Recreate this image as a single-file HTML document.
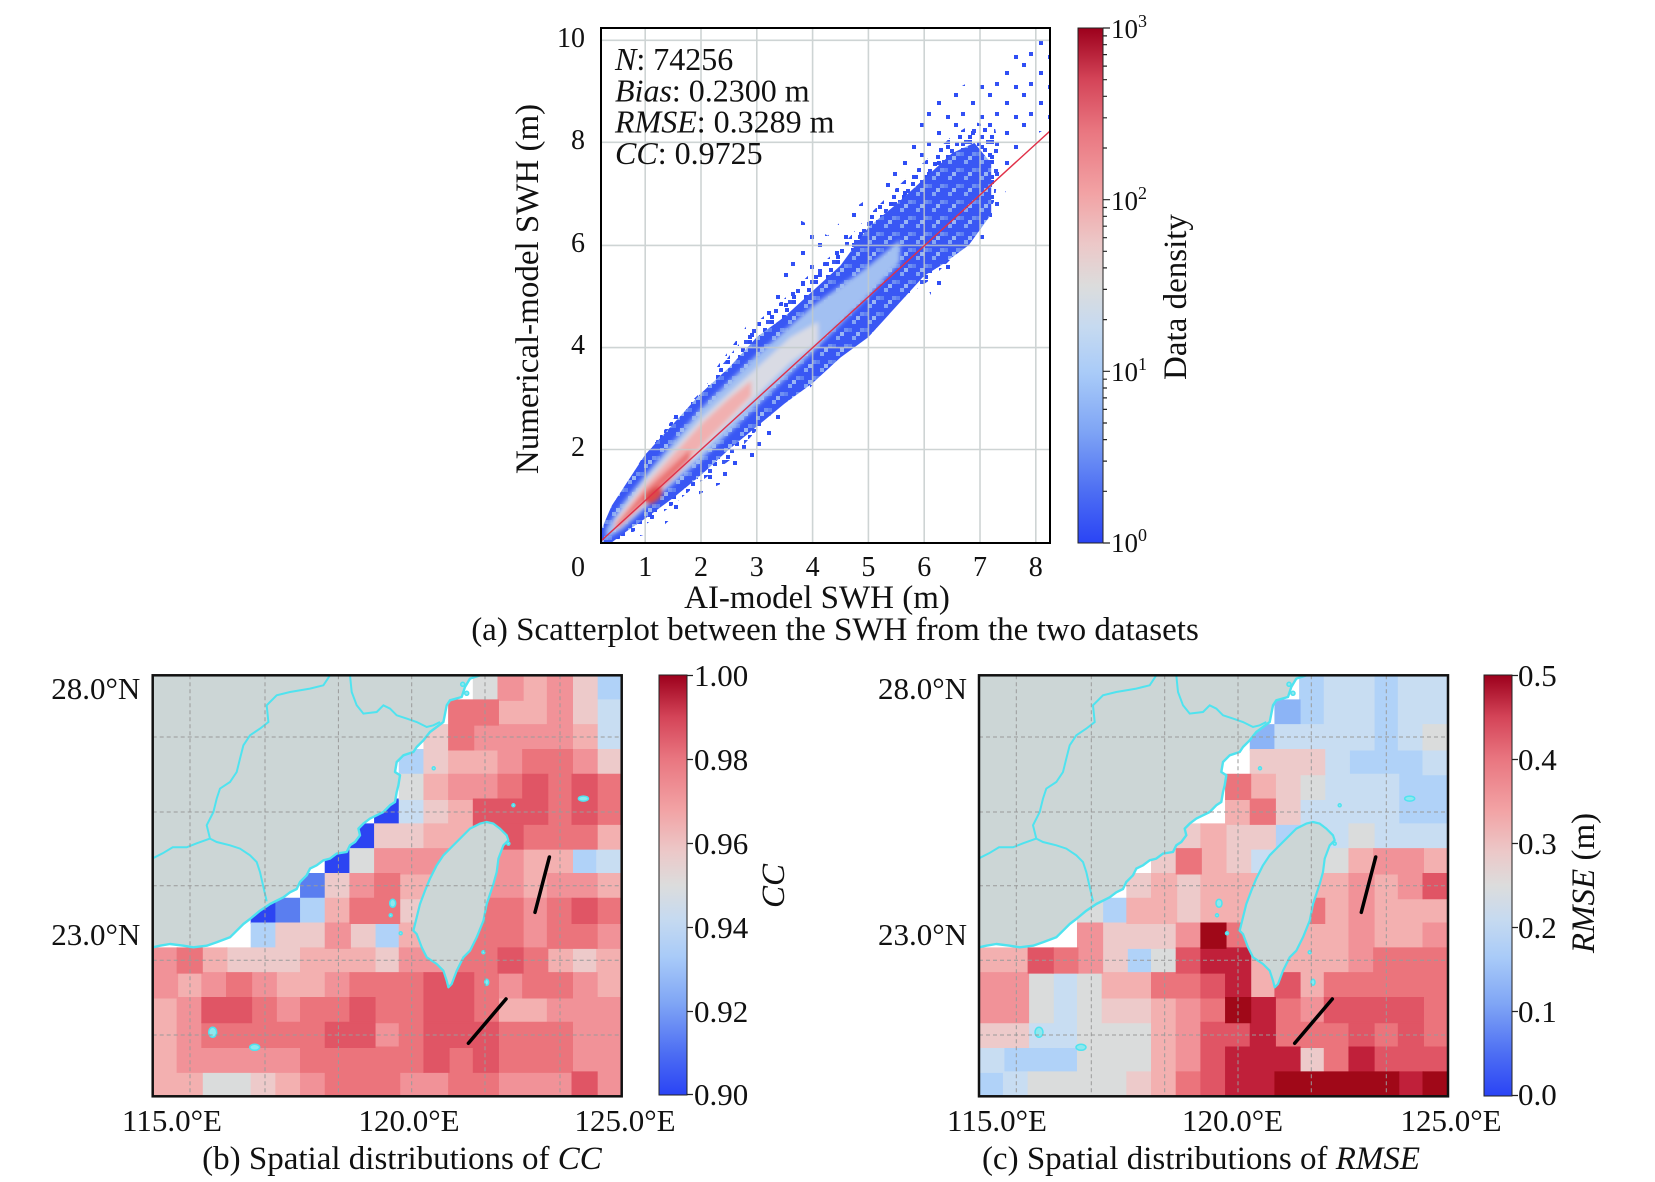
<!DOCTYPE html>
<html><head><meta charset="utf-8"><style>
html,body{margin:0;padding:0;background:#fff}
svg{display:block}
text{font-family:"Liberation Serif","DejaVu Serif",serif;fill:#111}
.k0{fill:#2c44f2;stroke:#2c44f2}.k1{fill:#5a7ef0;stroke:#5a7ef0}.km{fill:#8cb4f6;stroke:#8cb4f6}
.k2{fill:#b0d2f8;stroke:#b0d2f8}.k3{fill:#c8ddf2;stroke:#c8ddf2}.kg{fill:#dadcdc;stroke:#dadcdc}
.ka{fill:#edcaca;stroke:#edcaca}.kb{fill:#f3b0b0;stroke:#f3b0b0}.kc{fill:#f19298;stroke:#f19298}
.kd{fill:#eb747c;stroke:#eb747c}.ke{fill:#e05565;stroke:#e05565}.kf{fill:#c0203a;stroke:#c0203a}
.kh{fill:#a00818;stroke:#a00818}
.cells path{stroke-width:0.06}
</style></head><body>
<svg width="1655" height="1182" viewBox="0 0 1655 1182" xmlns="http://www.w3.org/2000/svg">
<defs>
<linearGradient id="cm" x1="0" y1="1" x2="0" y2="0">
<stop offset="0" stop-color="#2a44f5"/><stop offset="0.1" stop-color="#4d6ef3"/>
<stop offset="0.22" stop-color="#80a6f5"/><stop offset="0.33" stop-color="#a9cbf8"/>
<stop offset="0.42" stop-color="#c6daf0"/><stop offset="0.5" stop-color="#dcdcdc"/>
<stop offset="0.58" stop-color="#ecc8c8"/><stop offset="0.68" stop-color="#f2a2a4"/>
<stop offset="0.8" stop-color="#e97680"/><stop offset="0.9" stop-color="#d44458"/>
<stop offset="1" stop-color="#9c001c"/>
</linearGradient>
<pattern id="sp2" width="34" height="30" patternUnits="userSpaceOnUse">
<rect x="2" y="3" width="4" height="4" fill="#2f4ef5"/><rect x="19" y="11" width="4" height="4" fill="#2f4ef5"/>
<rect x="9" y="22" width="4" height="4" fill="#3452f4"/><rect x="28" y="25" width="4" height="4" fill="#2f4ef5"/>
</pattern>
<pattern id="sp" width="22" height="20" patternUnits="userSpaceOnUse">
<rect x="0" y="0" width="4" height="4" fill="#2f4ef5"/><rect x="9" y="2" width="4" height="4" fill="#2f4ef5"/>
<rect x="4" y="9" width="4" height="4" fill="#3452f4"/><rect x="15" y="8" width="4" height="4" fill="#2f4ef5"/>
<rect x="12" y="15" width="4" height="4" fill="#2f4ef5"/><rect x="18" y="0" width="4" height="4" fill="#3a58f3"/>
<rect x="0" y="15" width="4" height="4" fill="#2f4ef5"/>
</pattern>
<pattern id="dp" width="16" height="16" patternUnits="userSpaceOnUse">
<rect width="16" height="16" fill="#3957f4"/><rect x="4" y="0" width="4" height="4" fill="#86a6f4"/>
<rect x="12" y="8" width="4" height="4" fill="#7090f2"/><rect x="0" y="8" width="4" height="4" fill="#5f80f2"/>
<rect x="8" y="12" width="4" height="4" fill="#9ab6f4"/>
</pattern>
<filter id="bl"><feGaussianBlur stdDeviation="2"/></filter>
<clipPath id="ac"><rect x="601" y="28" width="449" height="515"/></clipPath>
<clipPath id="mclip"><rect x="0" y="0" width="469" height="421"/></clipPath>
<g id="land">
<path d="M0,0 L327.3,0 L317.3,3.3 L312.3,11.7 L309,21.7 L297.3,25 L294,30 L290.7,46.7 L284,51.7 L277.3,56.7 L270.7,65 L264,71.7 L260.7,76.7 L250.7,80 L244,86.7 L242.3,96.7 L247.3,100 L245.7,110 L244,116.7 L242.3,126.7 L237.3,130 L230.7,136.7 L224,140 L217.3,143.3 L210.7,148.3 L205.7,153.3 L207.3,160 L202.3,166.7 L197.3,170 L194,176.7 L184,178.3 L177.3,183.3 L170.7,185 L164,190 L157.3,193.3 L154,200 L147.3,206.7 L144,213.7 L137.3,217 L130.7,222 L117.3,228.7 L107.3,235.4 L97.3,243.7 L90.7,248.7 L84,255.4 L77.3,262 L64,267 L54,270.4 L40.7,272 L30.7,270.4 L17.3,268.7 L7.3,270.4 L0,272 Z" fill="#ccd6d6"/>
<polyline points="327.3,0 317.3,3.3 312.3,11.7 309,21.7 297.3,25 294,30 290.7,46.7 284,51.7 277.3,56.7 270.7,65 264,71.7 260.7,76.7 250.7,80 244,86.7 242.3,96.7 247.3,100 245.7,110 244,116.7 242.3,126.7 237.3,130 230.7,136.7 224,140 217.3,143.3 210.7,148.3 205.7,153.3 207.3,160 202.3,166.7 197.3,170 194,176.7 184,178.3 177.3,183.3 170.7,185 164,190 157.3,193.3 154,200 147.3,206.7 144,213.7 137.3,217 130.7,222 117.3,228.7 107.3,235.4 97.3,243.7 90.7,248.7 84,255.4 77.3,262 64,267 54,270.4 40.7,272 30.7,270.4 17.3,268.7 7.3,270.4 0,272" fill="none" stroke="#4fe3ef" stroke-width="2.4" stroke-linejoin="round"/>
<polyline points="197.3,0 199,16.7 204,30 210.7,38.3 224,36.7 230.7,30 237.3,33.3 244,40 254,43.3 264,46.7 274,51.7 280.7,50 287.3,46.7" fill="none" stroke="#4fe3ef" stroke-width="2"/>
<polyline points="177.3,0 170.7,10 157.3,13.3 137.3,16.7 124,20 114,30 115.7,46.7 107.3,53.3 97.3,60 90.7,70 87.3,83.3 84,96.7 77.3,106.7 67.3,113.3 64,123.3 60.7,136.7 54,150 57.3,163.3 64,166.7 77.3,170 87.3,173.3 97.3,180 104,186.7 107.3,196.7 110.7,211.7 114,226" fill="none" stroke="#4fe3ef" stroke-width="2"/>
<polyline points="57.3,163.3 44,168 34,172 20,172 10,178 0,183" fill="none" stroke="#4fe3ef" stroke-width="2"/>
<path d="M334,146.7 L340.7,148.3 L347.3,153.3 L354,160 L355.7,165 L350.7,170 L345.7,183.3 L344,196.7 L340.7,208.7 L334,228.7 L330.7,245.4 L324,262 L317.3,275.4 L310.7,282 L304,295.4 L299,308.7 L295.7,312 L294,305.4 L290.7,295.4 L284,288.7 L274,282 L269,272 L264,258.7 L260.7,255.4 L264,242 L267.3,228.7 L272.3,215.4 L277.3,203.3 L284,190 L290.7,180 L297.3,173.3 L307.3,163.3 L317.3,153.3 L327.3,148.3 Z" fill="#ccd6d6" stroke="#4fe3ef" stroke-width="2.2" stroke-linejoin="round"/>
<g fill="#8ee8ee" stroke="#4fe3ef" stroke-width="1.5">
<circle cx="310" cy="9" r="2"/><circle cx="314" cy="18" r="2"/><circle cx="281" cy="93" r="1.5"/>
<circle cx="360.7" cy="130" r="1.5"/><ellipse cx="430.7" cy="123.3" rx="5" ry="2.5"/><circle cx="355.7" cy="168.3" r="1.5"/>
<ellipse cx="240" cy="228" rx="3" ry="4"/><circle cx="238" cy="240" r="1.5"/><circle cx="330.7" cy="277" r="1.5"/>
<ellipse cx="334" cy="307" rx="2" ry="3"/><ellipse cx="60" cy="357" rx="4" ry="5"/><ellipse cx="102" cy="372" rx="5" ry="3"/>
<circle cx="248" cy="258" r="1.5"/>
</g>
</g>
<g id="grid" stroke="#9a9a9a" stroke-width="1" stroke-dasharray="4,3" fill="none">
<path d="M37.3,0V421M112.3,0V421M185.7,0V421M259,0V421M332.3,0V421M407.3,0V421"/>
<path d="M0,61.7H469M0,136.7H469M0,210.5H469M0,285H469M0,359.7H469"/>
</g>
<g id="tracks" stroke="#000" stroke-width="3.5" stroke-linecap="round">
<line x1="396.7" y1="181.7" x2="382.3" y2="237"/>
<line x1="353.3" y1="323.7" x2="315.7" y2="368"/>
</g>
</defs>

<!-- ===== Panel (a) ===== -->
<g clip-path="url(#ac)">
<path d="M602,530 L614,509 L640.7,458.7 L672,416.7 L698.8,391.4 L730,349.3 L756.8,311.4 L780,275 L792.5,252.5 L800,220 L828,235.7 L850.5,210.4 L881.8,189.4 L899.6,147.3 L935.4,101 L980,75.8 L1015.7,50.5 L1038,29.5 L1050,29 L1050,126 L1029,139 L1011,176.8 L989,235.7 L962,252.5 L935,303 L922,277.8 L890.7,294.6 L872.9,319.9 L855,336.7 L837,362 L819.3,378.8 L792.5,404 L765.7,446 L747.9,471.4 L712,488 L694.3,496.6 L658.6,530.3 L627.3,540 L602,543 Z" fill="url(#sp2)"/>
<path d="M602,528 L614,506 L641,460 L672,420 L700,393 L730,355 L757,322 L785,298 L812,272 L840,248 L868,216 L896,188 L924,162 L952,136 L975,122 L995,128 L1000,152 L995,200 L975,235 L950,260 L930,280 L900,300 L870,330 L840,350 L812,375 L785,400 L757,430 L730,460 L700,482 L673,505 L645,525 L623,538 L602,543 Z" fill="url(#sp)"/>
<path d="M601.7,528.7 L611.7,505.7 L645.2,454.6 L673.1,424 L701,393.3 L728.9,367.7 L756.8,337.1 L784.7,316.6 L812.6,291.1 L840.5,265.5 L868.4,227.2 L896.3,204.2 L924.2,178.7 L952.1,153.1 L974.4,142.9 L991.2,163.3 L991.2,214.4 L968.8,245.1 L940.9,265.5 L924.2,275.8 L896.3,306.4 L868.4,337.1 L840.5,357.5 L812.6,383.1 L784.7,403.5 L756.8,426.5 L728.9,449.5 L701,475.1 L673.1,498 L645.2,518.5 L623.1,533.8 L611.7,542.5 L601.7,542.5 Z" fill="url(#dp)"/>
<g filter="url(#bl)">
<path d="M606.1,528.7 L622.9,503.2 L645.2,475.1 L701,408.6 L756.8,355 L812.6,306 L868.4,266 L900,240 L900,262 L868.4,296 L812.6,352 L756.8,406.1 L701,459.7 L645.2,508.3 L622.9,528.7 L606.1,538.9 Z" fill="#a2c0f2"/>
<path d="M614.5,521 L645.2,480.2 L701,418.8 L756.8,367.7 L790.3,337.1 L818.2,321.8 L818.2,342.2 L790.3,362.6 L756.8,395.8 L701,452.1 L645.2,505.7 L614.5,531.3 Z" fill="#d9dbe4"/>
<path d="M614.5,523.6 L645.2,485.3 L673.1,454.6 L701,424 L728.9,398.4 L751.2,380.5 L751.2,395.8 L728.9,418.8 L701,446.9 L673.1,477.6 L645.2,503.2 L614.5,530.2 Z" fill="#f1b0b0"/>
<path d="M617.3,523.6 L645.2,490.4 L667.5,469.9 L689.8,449.5 L689.8,459.7 L667.5,482.7 L645.2,500.6 L617.3,528.7 Z" fill="#ea7474"/>
<ellipse cx="653.6" cy="495.5" rx="11" ry="6" transform="rotate(-42 653.6 495.5)" fill="#dc4a4a"/>
</g>
<g stroke="#c2caca" stroke-width="1.6" opacity="0.8">
<path d="M645.2,28V543M701,28V543M756.8,28V543M812.6,28V543M868.4,28V543M924.2,28V543M980,28V543M1035.8,28V543"/>
<path d="M601,40.3H1050M601,142.3H1050M601,245.4H1050M601,347.6H1050M601,449.5H1050"/>
</g>
<line x1="601" y1="541" x2="1050" y2="131" stroke="#e03048" stroke-width="1.4"/>
</g>
<rect x="601" y="28" width="449" height="515" fill="none" stroke="#000" stroke-width="2"/>

<g font-size="32">
<text x="615" y="70"><tspan font-style="italic">N</tspan>: 74256</text>
<text x="615" y="101.5"><tspan font-style="italic">Bias</tspan>: 0.2300 m</text>
<text x="615" y="132.5"><tspan font-style="italic">RMSE</tspan>: 0.3289 m</text>
<text x="615" y="164"><tspan font-style="italic">CC</tspan>: 0.9725</text>
</g>
<g font-size="28" text-anchor="end">
<text x="585" y="47">10</text><text x="585" y="149">8</text><text x="585" y="252">6</text>
<text x="585" y="354">4</text><text x="585" y="456">2</text>
</g>
<g font-size="28" text-anchor="middle">
<text x="578" y="576">0</text>
<text x="645.2" y="576">1</text><text x="701" y="576">2</text><text x="756.8" y="576">3</text>
<text x="812.6" y="576">4</text><text x="868.4" y="576">5</text><text x="924.2" y="576">6</text>
<text x="980" y="576">7</text><text x="1035.8" y="576">8</text>
</g>
<text x="817" y="608" font-size="33" text-anchor="middle">AI-model SWH (m)</text>
<text transform="translate(538,289) rotate(-90)" font-size="33" text-anchor="middle">Numerical-model SWH (m)</text>
<text x="835" y="640" font-size="33" text-anchor="middle">(a) Scatterplot between the SWH from the two datasets</text>

<!-- colorbar a -->
<rect x="1078" y="28" width="25" height="515" fill="url(#cm)" stroke="#222" stroke-width="1"/>
<g stroke="#222" stroke-width="1.2">
<path d="M1103,28H1110M1103,199.7H1110M1103,371.3H1110M1103,543H1110"/>
<path d="M1103,491.3H1107M1103,461.1H1107M1103,439.6H1107M1103,423H1107M1103,409.4H1107M1103,397.9H1107M1103,388H1107M1103,379.2H1107M1103,319.6H1107M1103,289.4H1107M1103,267.9H1107M1103,251.3H1107M1103,237.7H1107M1103,226.2H1107M1103,216.3H1107M1103,207.5H1107M1103,148H1107M1103,117.8H1107M1103,96.3H1107M1103,79.7H1107M1103,66.1H1107M1103,54.6H1107M1103,44.7H1107M1103,35.9H1107"/>
</g>
<g font-size="27">
<text x="1111" y="38">10<tspan font-size="18" dy="-11">3</tspan></text>
<text x="1111" y="210">10<tspan font-size="18" dy="-11">2</tspan></text>
<text x="1111" y="381">10<tspan font-size="18" dy="-11">1</tspan></text>
<text x="1111" y="552">10<tspan font-size="18" dy="-11">0</tspan></text>
</g>
<text transform="translate(1186,297) rotate(-90)" font-size="33" text-anchor="middle">Data density</text>

<!-- ===== Panel (b) ===== -->
<g transform="translate(152.7,675.3)" clip-path="url(#mclip)">
<rect width="469" height="421" fill="#fff"/>
<g class="cells" transform="scale(24.68,24.8)">
<path class="k0" d="M9 5h1v1h-1zM8 6h1v1h-1zM7 7h1v1h-1zM4 9h1v1h-1z"/>
<path class="k1" d="M6 8h1v1h-1zM5 9h1v1h-1z"/>
<path class="k2" d="M18 0h1v1h-1zM10 3h1v1h-1zM17 7h1v1h-1zM6 9h1v1h-1zM4 10h1v1h-1zM9 10h1v1h-1z"/>
<path class="k3" d="M18 1h1v2h-1zM10 5h1v1h-1zM18 7h1v1h-1z"/>
<path class="kg" d="M13 0h1v1h-1zM10 4h1v1h-1zM8 7h1v1h-1zM2 16h2v1h-2z"/>
<path class="ka" d="M17 0h1v2h-1zM11 2h1v2h-1zM18 3h1v1h-1zM11 5h1v1h-1zM9 6h2v1h-2zM7 8h1v1h-1zM10 9h1v1h-1zM5 10h2v1h-2zM8 10h1v1h-1zM3 11h3v1h-3zM9 11h1v1h-1zM17 11h1v1h-1zM4 16h1v1h-1z"/>
<path class="kb" d="M15 0h1v1h-1zM14 1h2v1h-2zM17 2h1v1h-1zM12 3h2v1h-2zM11 4h1v1h-1zM12 5h1v1h-1zM11 6h2v1h-2zM18 6h1v1h-1zM12 7h1v1h-1zM15 7h2v1h-2zM10 8h3v1h-3zM15 8h1v1h-1zM18 8h1v1h-1zM7 9h1v1h-1zM10 10h1v1h-1zM2 11h1v1h-1zM6 11h3v1h-3zM16 11h1v1h-1zM18 11h1v1h-1zM1 12h1v1h-1zM5 12h2v1h-2zM18 12h1v1h-1zM0 13h1v1h-1zM14 13h2v1h-2zM0 14h1v2h-1zM0 16h2v1h-2zM5 16h1v1h-1z"/>
<path class="kc" d="M14 0h1v1h-1zM16 0h1v2h-1zM13 2h4v1h-4zM14 3h1v1h-1zM17 3h1v1h-1zM12 4h2v1h-2zM9 7h3v1h-3zM13 7h2v1h-2zM8 8h1v1h-1zM13 8h2v1h-2zM16 8h2v1h-2zM11 9h2v1h-2zM15 9h1v1h-1zM7 10h1v1h-1zM11 10h2v1h-2zM15 10h1v1h-1zM18 10h1v1h-1zM0 11h1v2h-1zM10 11h2v1h-2zM2 12h1v1h-1zM4 12h1v1h-1zM7 12h1v1h-1zM14 12h1v1h-1zM17 12h1v1h-1zM1 13h1v3h-1zM5 13h1v1h-1zM16 13h3v1h-3zM9 14h1v1h-1zM17 14h2v2h-2zM2 15h4v1h-4zM6 16h1v1h-1zM10 16h2v1h-2zM14 16h3v1h-3zM18 16h1v1h-1z"/>
<path class="kd" d="M12 1h2v1h-2zM12 2h1v1h-1zM15 3h2v1h-2zM14 4h1v1h-1zM16 4h1v2h-1zM18 4h1v2h-1zM15 6h3v1h-3zM9 8h1v1h-1zM8 9h2v1h-2zM13 9h2v2h-2zM16 9h1v2h-1zM18 9h1v1h-1zM17 10h1v1h-1zM1 11h1v1h-1zM12 11h2v1h-2zM15 11h1v2h-1zM3 12h1v1h-1zM8 12h3v1h-3zM13 12h1v2h-1zM16 12h1v1h-1zM4 13h1v1h-1zM6 13h2v1h-2zM9 13h2v1h-2zM2 14h5v1h-5zM10 14h1v1h-1zM14 14h3v2h-3zM6 15h5v1h-5zM12 15h1v2h-1zM7 16h3v1h-3zM13 16h1v1h-1z"/>
<path class="ke" d="M15 4h1v1h-1zM17 4h1v2h-1zM13 5h3v1h-3zM13 6h2v1h-2zM17 9h1v1h-1zM14 11h1v1h-1zM11 12h2v2h-2zM2 13h2v1h-2zM8 13h1v1h-1zM7 14h2v1h-2zM11 14h3v1h-3zM11 15h1v1h-1zM13 15h1v1h-1zM17 16h1v1h-1z"/>
</g>
<use href="#land"/>
<use href="#grid"/>
<use href="#tracks"/>
</g>
<rect x="152.7" y="675.3" width="469" height="421" fill="none" stroke="#111" stroke-width="2.5"/>

<g font-size="31" text-anchor="end">
<text x="140.3" y="699">28.0°N</text><text x="140.3" y="945">23.0°N</text>
</g>
<g font-size="31" text-anchor="middle">
<text x="172" y="1131">115.0°E</text><text x="409" y="1131">120.0°E</text><text x="625" y="1131">125.0°E</text>
</g>
<rect x="659" y="675" width="28" height="420" fill="url(#cm)" stroke="#222" stroke-width="1"/>
<path d="M687,675.5H693M687,759.5H693M687,843.5H693M687,927.5H693M687,1011.5H693M687,1094.5H693" stroke="#222" stroke-width="1.2"/>
<g font-size="31">
<text x="694" y="686">1.00</text><text x="694" y="770">0.98</text><text x="694" y="854">0.96</text>
<text x="694" y="938">0.94</text><text x="694" y="1022">0.92</text><text x="694" y="1105">0.90</text>
</g>
<text transform="translate(784,886) rotate(-90)" font-size="33" font-style="italic" text-anchor="middle">CC</text>
<text x="402" y="1169" font-size="33" text-anchor="middle">(b) Spatial distributions of <tspan font-style="italic">CC</tspan></text>

<!-- ===== Panel (c) ===== -->
<g transform="translate(979,675.3)" clip-path="url(#mclip)">
<rect width="469" height="421" fill="#fff"/>
<g class="cells" transform="scale(24.68,24.8)">
<path class="k2" d="M13 0h1v2h-1zM16 0h1v3h-1zM15 3h3v1h-3zM17 4h2v2h-2zM12 6h2v1h-2zM5 9h1v1h-1zM6 11h1v1h-1zM1 15h3v1h-3zM0 16h1v1h-1z"/>
<path class="km" d="M12 1h1v1h-1zM11 2h1v1h-1z"/>
<path class="k3" d="M14 0h2v2h-2zM17 0h2v2h-2zM12 2h4v1h-4zM17 2h1v1h-1zM14 3h1v1h-1zM18 3h1v1h-1zM14 4h3v1h-3zM13 5h4v1h-4zM14 6h1v1h-1zM16 6h3v1h-3zM11 7h2v1h-2zM3 12h1v2h-1zM2 14h2v1h-2zM0 15h1v1h-1zM1 16h1v1h-1z"/>
<path class="kg" d="M18 2h1v1h-1zM13 4h1v1h-1zM15 6h1v1h-1zM13 7h2v1h-2zM4 9h1v1h-1zM7 11h1v1h-1zM2 12h1v2h-1zM4 12h1v2h-1zM4 14h3v2h-3zM2 16h4v1h-4z"/>
<path class="ka" d="M11 3h3v1h-3zM12 4h1v2h-1zM8 6h1v1h-1zM10 6h2v1h-2zM7 7h1v1h-1zM10 7h1v1h-1zM6 8h1v1h-1zM8 8h1v2h-1zM5 10h3v1h-3zM5 11h1v1h-1zM5 13h2v1h-2zM0 14h2v1h-2zM13 15h1v1h-1zM6 16h1v1h-1z"/>
<path class="kb" d="M11 4h1v1h-1zM10 5h1v1h-1zM9 6h1v1h-1zM9 7h1v1h-1zM15 7h1v1h-1zM18 7h1v1h-1zM7 8h1v1h-1zM9 8h6v1h-6zM16 8h1v1h-1zM6 9h2v1h-2zM9 9h3v1h-3zM14 9h1v1h-1zM16 9h3v1h-3zM12 10h3v1h-3zM16 10h2v1h-2zM0 11h2v1h-2zM11 11h4v1h-4zM5 12h2v1h-2zM11 12h1v1h-1zM13 12h1v1h-1zM7 13h1v4h-1z"/>
<path class="kc" d="M16 7h2v1h-2zM15 8h1v1h-1zM17 8h1v1h-1zM12 9h1v1h-1zM15 9h1v3h-1zM4 10h1v2h-1zM8 10h1v1h-1zM18 10h1v1h-1zM0 12h2v2h-2zM8 13h1v3h-1zM13 13h1v1h-1z"/>
<path class="kd" d="M10 4h1v1h-1zM11 5h1v1h-1zM8 7h1v1h-1zM13 9h1v1h-1zM10 10h2v1h-2zM3 11h1v1h-1zM16 11h3v2h-3zM7 12h2v1h-2zM14 12h2v1h-2zM9 13h1v1h-1zM12 13h1v2h-1zM18 13h1v2h-1zM13 14h2v1h-2zM16 14h1v1h-1zM14 15h1v1h-1zM8 16h1v1h-1z"/>
<path class="ke" d="M18 8h1v1h-1zM2 11h1v1h-1zM8 11h1v1h-1zM9 12h1v1h-1zM12 12h1v1h-1zM14 13h4v1h-4zM9 14h2v1h-2zM15 14h1v1h-1zM17 14h1v1h-1zM9 15h1v2h-1zM16 15h3v1h-3z"/>
<path class="kf" d="M9 11h2v1h-2zM10 12h1v1h-1zM11 13h1v2h-1zM10 15h3v1h-3zM15 15h1v1h-1zM10 16h2v1h-2zM17 16h1v1h-1z"/>
<path class="kh" d="M9 10h1v1h-1zM10 13h1v1h-1zM12 16h5v1h-5zM18 16h1v1h-1z"/>
</g>
<use href="#land"/>
<use href="#grid"/>
<use href="#tracks"/>
</g>
<rect x="979" y="675.3" width="469" height="421" fill="none" stroke="#111" stroke-width="2.5"/>

<g font-size="31" text-anchor="end">
<text x="967" y="699">28.0°N</text><text x="967" y="945">23.0°N</text>
</g>
<g font-size="31" text-anchor="middle">
<text x="997" y="1131">115.0°E</text><text x="1232.5" y="1131">120.0°E</text><text x="1451" y="1131">125.0°E</text>
</g>
<rect x="1484" y="675" width="28" height="421" fill="url(#cm)" stroke="#222" stroke-width="1"/>
<path d="M1512,675.5H1518M1512,759.5H1518M1512,843.5H1518M1512,927.5H1518M1512,1011.5H1518M1512,1095.5H1518" stroke="#222" stroke-width="1.2"/>
<g font-size="31">
<text x="1518" y="686">0.5</text><text x="1518" y="770">0.4</text><text x="1518" y="854">0.3</text>
<text x="1518" y="938">0.2</text><text x="1518" y="1022">0.1</text><text x="1518" y="1105">0.0</text>
</g>
<text transform="translate(1594,883) rotate(-90)" font-size="33" text-anchor="middle"><tspan font-style="italic">RMSE</tspan> (m)</text>
<text x="1201" y="1169" font-size="33" text-anchor="middle">(c) Spatial distributions of <tspan font-style="italic">RMSE</tspan></text>
</svg>
</body></html>
